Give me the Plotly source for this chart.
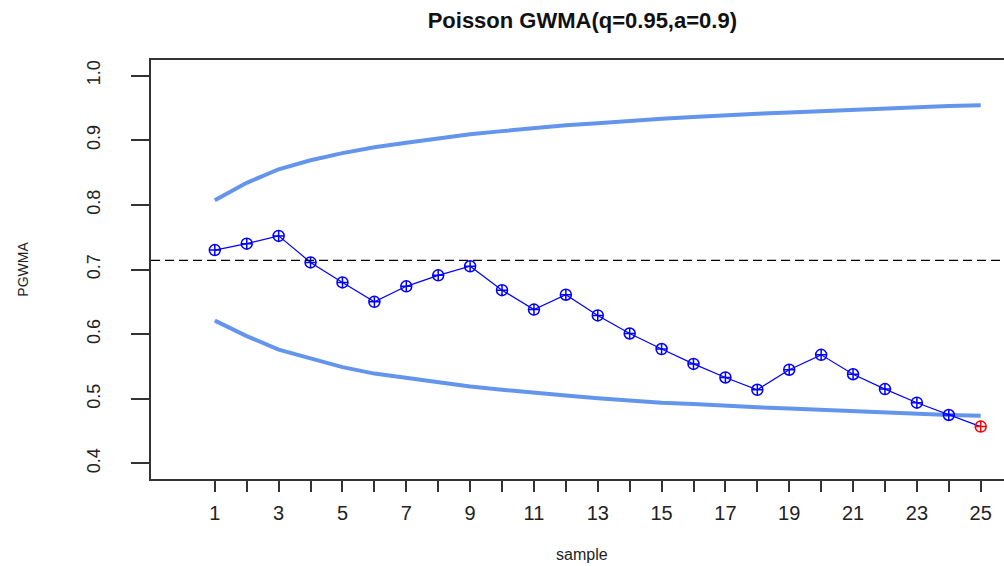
import plotly.graph_objects as go

# Poisson GWMA control chart data
samples = list(range(1, 26))
pgwma = [0.730, 0.740, 0.752, 0.711, 0.680, 0.650, 0.674, 0.691, 0.705, 0.668,
         0.638, 0.661, 0.629, 0.601, 0.577, 0.554, 0.533, 0.514, 0.545, 0.568,
         0.538, 0.515, 0.494, 0.475, 0.457]
ucl = [0.807, 0.834, 0.855, 0.869, 0.880, 0.889, 0.896, 0.903, 0.909, 0.914,
       0.919, 0.923, 0.926, 0.930, 0.933, 0.936, 0.939, 0.941, 0.943, 0.945,
       0.948, 0.950, 0.951, 0.953, 0.954]
lcl = [0.621, 0.597, 0.576, 0.562, 0.549, 0.539, 0.532, 0.525, 0.519, 0.514,
       0.509, 0.505, 0.501, 0.497, 0.494, 0.492, 0.489, 0.487, 0.485, 0.483,
       0.480, 0.478, 0.477, 0.475, 0.474]
center_line = 0.714
x_tick_labels = [str(s) if s % 2 == 1 else "" for s in samples]
y_ticks = [0.4, 0.5, 0.6, 0.7, 0.8, 0.9, 1.0]
y_tick_labels = ["0.4", "0.5", "0.6", "0.7", "0.8", "0.9", "1.0"]

# points beyond the limits are flagged red
marker_colors = ["red" if (v < l or v > u) else "blue" for v, l, u in zip(pgwma, lcl, ucl)]

FONT = "Liberation Sans, Arial, sans-serif"
AXIS_COLOR = "#333333"

fig = go.Figure()
fig.add_trace(go.Scatter(x=samples, y=ucl, mode="lines",
                         line=dict(color="#6495ED", width=4), hoverinfo="skip"))
fig.add_trace(go.Scatter(x=samples, y=lcl, mode="lines",
                         line=dict(color="#6495ED", width=4), hoverinfo="skip"))
fig.add_trace(go.Scatter(x=samples, y=pgwma, mode="lines+markers",
                         line=dict(color="blue", width=1.2),
                         marker=dict(symbol="circle-cross-open", size=11,
                                     color=marker_colors,
                                     line=dict(width=1.5, color=marker_colors))))

fig.add_shape(type="line", xref="paper", x0=0, x1=1, yref="y",
              y0=center_line, y1=center_line,
              line=dict(color="black", width=1.3, dash="9px,5px"))

fig.update_layout(
    width=1004, height=566,
    margin=dict(l=151, r=0, t=60, b=87),
    paper_bgcolor="white", plot_bgcolor="white",
    showlegend=False,
    font=dict(family=FONT, color="#222222"),
    title=dict(text="<b>Poisson GWMA(q=0.95,a=0.9)</b>",
               font=dict(family=FONT, size=22, color="#111111"),
               x=0.58, xanchor="center", y=1 - 20 / 566, yanchor="middle"),
    xaxis=dict(range=[-1, 25.73], tickvals=samples, ticktext=x_tick_labels,
               showgrid=False, zeroline=False,
               showline=True, linecolor=AXIS_COLOR, linewidth=1.5, mirror=True,
               ticks="outside", ticklen=11, tickwidth=1.5, tickcolor=AXIS_COLOR,
               tickfont=dict(family=FONT, size=20, color="#222222"),
               ticklabelstandoff=4),
    yaxis=dict(range=[0.376, 1.024], tickvals=y_ticks, ticktext=y_tick_labels,
               showgrid=False, zeroline=False,
               showline=True, linecolor=AXIS_COLOR, linewidth=1.5,
               ticks="outside", ticklen=18, tickwidth=1.5, tickcolor=AXIS_COLOR,
               tickangle=-90,
               tickfont=dict(family=FONT, size=18, color="#222222"),
               ticklabelstandoff=24),
)

fig.add_annotation(text="sample", xref="paper", yref="paper",
                   x=0.505, y=-0.181, xanchor="center", yanchor="middle",
                   showarrow=False, font=dict(family=FONT, size=16, color="#222222"))
fig.add_annotation(text="PGWMA", xref="paper", yref="paper",
                   x=-0.151, y=0.5, xanchor="center", yanchor="middle",
                   textangle=-90, showarrow=False,
                   font=dict(family=FONT, size=14, color="#222222"))

fig.write_html("out.html")
